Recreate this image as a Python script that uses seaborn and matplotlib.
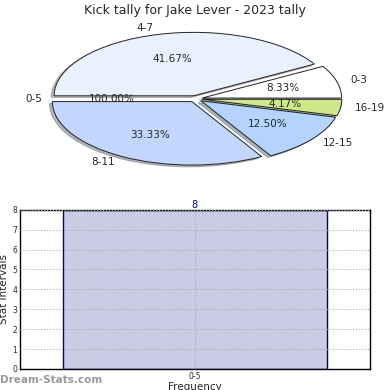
import pandas as pd
import numpy as np
import seaborn as sns
import matplotlib.pyplot as plt

sns.set_style("white")
plt.rcParams['font.family'] = ['DejaVu Sans']

# pie data
slice_labels = ["0-3", "4-7", "8-11", "12-15", "16-19"]
slice_counts = [2, 10, 8, 3, 1]
slice_colors = ["#ffffff", "#eaf1fe", "#c3d7fe", "#b4d4fe", "#cde98b"]

# bar data
bar_cats = ["0-5"]
bar_vals = [8]

fig = plt.figure(figsize=(3.9, 3.9), dpi=100)

#%% Pie
ax1 = fig.add_axes([0.036, 0.535, 0.93, 0.423])
ax1.pie(slice_counts, labels=slice_labels, colors=slice_colors,
        autopct="%.2f%%", startangle=0, explode=[0.05] * len(slice_counts),
        shadow=dict(ox=-0.015, oy=-0.02, shade=0.5),
        wedgeprops=dict(edgecolor="#222222", linewidth=0.7),
        textprops=dict(fontsize=7.5))
# overall wedge, drawn invisible so only its labels show
ax1.pie([1], labels=["0-5"], autopct="%.2f%%", startangle=0,
        wedgeprops=dict(fill=False, linewidth=0),
        textprops=dict(fontsize=7.5))
ax1.set_aspect("auto")
ax1.set_xlim(-1.3, 1.3)
ax1.set_ylim(-1.3, 1.3)
fig.text(0.5, 0.973, "Kick tally for Jake Lever - 2023 tally", ha="center",
         va="center", fontsize=9)

#%% Bar
ax2 = fig.add_axes([0.051, 0.054, 0.897, 0.408])
df = pd.DataFrame({"cat": bar_cats, "val": bar_vals})
sns.barplot(data=df, x="cat", y="val", ax=ax2, color="#cbcbe3",
            edgecolor="#000080", linewidth=1, width=0.8, saturation=1)
ax2.set_xlim(-0.53, 0.53)
ax2.set_ylim(0, 8)
ax2.set_yticks(range(0, 9))
ax2.grid(True, color="#aaaaaa", linestyle=":", linewidth=0.8)
ax2.set_axisbelow(False)
for s in ax2.spines.values():
    s.set_color("black")
    s.set_linewidth(1)
ax2.tick_params(axis="both", labelsize=5.5, length=2, direction="in", pad=2)
for i, v in enumerate(bar_vals):
    ax2.text(i, v, str(v), ha="center", va="bottom", color="#000080", fontsize=7)
ax2.set_ylabel("Stat Intervals", fontsize=7.5, labelpad=2)
ax2.set_xlabel("Frequency", fontsize=7.5, labelpad=1)
fig.text(0.0, 0.025, "Dream-Stats.com", color="#999999", fontsize=7.5,
         fontweight="bold", ha="left", va="center")

fig.savefig("out.png", dpi=100)
